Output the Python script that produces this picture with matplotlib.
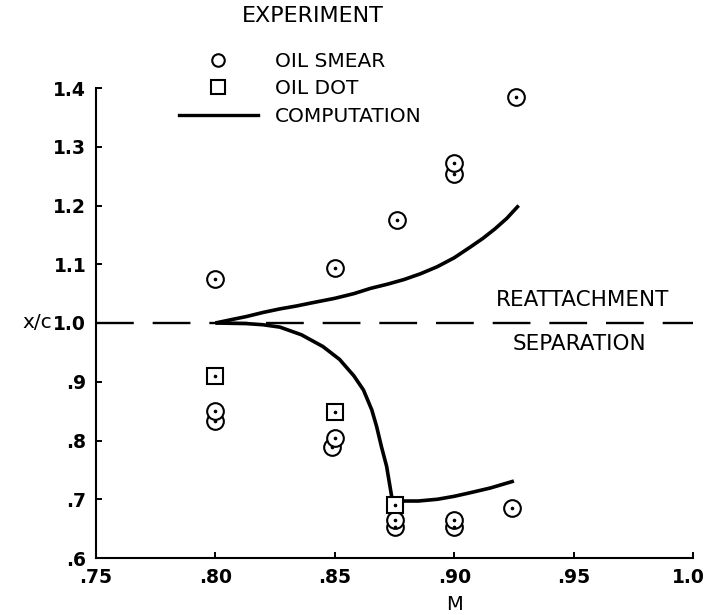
import matplotlib
matplotlib.use("Agg")
import matplotlib.pyplot as plt
from matplotlib.lines import Line2D
from matplotlib.transforms import ScaledTranslation

plt.rcParams['font.family'] = ['DejaVu Sans']

# ---------------- data ----------------
smear_m = [0.80, 0.80, 0.80, 0.849, 0.85, 0.85, 0.875, 0.875, 0.876,
           0.90, 0.90, 0.90, 0.90, 0.924, 0.926]
smear_x = [0.833, 0.851, 1.075, 0.789, 0.804, 1.094, 0.653, 0.664, 1.175,
           0.653, 0.665, 1.253, 1.272, 0.685, 1.384]

dot_m = [0.80, 0.85, 0.875]
dot_x = [0.910, 0.849, 0.691]

upper_m = [0.80, 0.807, 0.813, 0.820, 0.827, 0.834, 0.840, 0.850, 0.858, 0.865,
           0.872, 0.879, 0.886, 0.893, 0.900, 0.907, 0.912, 0.917, 0.922, 0.927]
upper_x = [1.000, 1.006, 1.011, 1.018, 1.024, 1.029, 1.034, 1.042, 1.050, 1.059,
           1.066, 1.074, 1.084, 1.096, 1.111, 1.130, 1.144, 1.160, 1.178, 1.200]

lower_m = [0.80, 0.813, 0.820, 0.827, 0.836, 0.845, 0.852, 0.858, 0.862, 0.8655, 0.8675,
           0.8695, 0.8717, 0.8738, 0.875, 0.879, 0.885, 0.893, 0.900, 0.9066, 0.915, 0.925]
lower_x = [1.000, 0.999, 0.997, 0.993, 0.980, 0.960, 0.938, 0.910, 0.886, 0.852, 0.824,
           0.790, 0.756, 0.705, 0.695, 0.697, 0.697, 0.700, 0.705, 0.711, 0.719, 0.731]

xticks = [0.75, 0.80, 0.85, 0.90, 0.95, 1.0]
xtick_labels = ['.75', '.80', '.85', '.90', '.95', '1.0']
yticks = [0.6, 0.7, 0.8, 0.9, 1.0, 1.1, 1.2, 1.3, 1.4]
ytick_labels = ['.6', '.7', '.8', '.9', '1.0', '1.1', '1.2', '1.3', '1.4']

W, H = 706, 615
fig = plt.figure(figsize=(W / 100, H / 100), dpi=100)
ax = fig.add_axes([96 / W, 57 / H, (693 - 96) / W, (558 - 88) / H])
ax.set_xlim(0.75, 1.0)
ax.set_ylim(0.6, 1.4)

for s in ['top', 'right']:
    ax.spines[s].set_visible(False)
for s in ['left', 'bottom']:
    ax.spines[s].set_linewidth(1.5)

ax.set_xticks(xticks)
ax.set_xticklabels(xtick_labels)
ax.set_yticks(yticks)
ax.set_yticklabels(ytick_labels)
ax.tick_params(direction='in', length=4.5, width=1.4, labelsize=13.5, pad=7)
for lab in ax.get_xticklabels() + ax.get_yticklabels():
    lab.set_fontweight('bold')
last = ax.get_xticklabels()[-1]
last.set_transform(last.get_transform() + ScaledTranslation(-5 / 100, 0, fig.dpi_scale_trans))

# dashed reattachment/separation line
ax.axhline(1.0, color='black', lw=1.7, dashes=(16, 8), zorder=1)

# computation curves
ax.plot(upper_m, upper_x, color='black', lw=2.6, solid_capstyle='butt',
        solid_joinstyle='round', zorder=2)
ax.plot(lower_m, lower_x, color='black', lw=2.6, solid_capstyle='butt',
        solid_joinstyle='round', zorder=2)

# oil smear circles (ascending order so upper circles cover lower ones)
ax.plot(smear_m, smear_x, linestyle='none', marker='o', ms=12, mfc='white',
        mec='black', mew=1.5, zorder=3)
ax.plot(dot_m, dot_x, linestyle='none', marker='s', ms=12, mfc='white',
        mec='black', mew=1.5, zorder=3)
ax.plot(smear_m + dot_m, smear_x + dot_x, linestyle='none', marker='o', ms=1.6,
        mfc='black', mec='black', zorder=4)

ax.text(0.9539, 1.040, 'REATTACHMENT', ha='center', va='center', fontsize=15.5)
ax.text(0.9525, 0.965, 'SEPARATION', ha='center', va='center', fontsize=15.5)

# axis labels
fig.text(37 / W, 1 - 323 / H, 'x/c', ha='center', va='center', fontsize=14.5)
fig.text(455 / W, 1 - 604 / H, 'M', ha='center', va='center', fontsize=14)

# legend
fig.text(313 / W, 1 - 16 / H, 'EXPERIMENT', ha='center', va='center', fontsize=16)
handles = [
    Line2D([], [], linestyle='none', marker='o', ms=9, mfc='white', mec='black', mew=1.5),
    Line2D([], [], linestyle='none', marker='s', ms=10.5, mfc='white', mec='black', mew=1.5),
    Line2D([], [], color='black', lw=2.4),
]
labels = ['OIL SMEAR', 'OIL DOT', 'COMPUTATION']
leg = fig.legend(handles, labels, loc='upper left',
                 bbox_to_anchor=(179 / W, 1 - 52 / H), bbox_transform=fig.transFigure,
                 frameon=False, borderpad=0, borderaxespad=0, fontsize=14.5,
                 handlelength=3.9, handletextpad=0.85, labelspacing=0.42)

fig.savefig('out.png', dpi=100)
